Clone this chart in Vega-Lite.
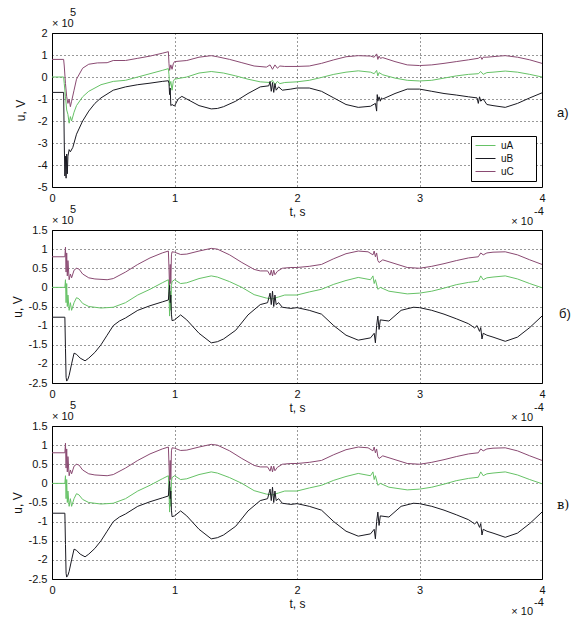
{
"$schema": "https://vega.github.io/schema/vega-lite/v6.json",
"background": "white",
"padding": {"left": 10, "top": 6, "right": 5, "bottom": 5},
"config": {
 "font": "Liberation Sans",
 "view": {"stroke": "#000", "strokeWidth": 1},
 "axis": {"labelFontSize": 11, "labelColor": "#111", "titleFontSize": 12, "titleFontWeight": "normal", "titleColor": "#111", "gridColor": "#000", "gridDash": [1, 3], "gridOpacity": 0.8, "ticks": false, "domain": false, "labelPadding": 5, "labelOverlap": false, "labelFlush": false, "tickCount": 20, "labelExpr": "datum.value + ''"},
 "text": {"font": "Liberation Sans", "fontSize": 11, "color": "#111"}
},
"datasets": {
"a": [
{"s":"uC","t":0,"u":0.8},{"s":"uC","t":0.095,"u":0.8},{"s":"uC","t":0.1,"u":0.5},{"s":"uC","t":0.11,"u":-0.3},{"s":"uC","t":0.12,"u":-0.9},{"s":"uC","t":0.13,"u":-1.2},{"s":"uC","t":0.14,"u":-1.0},{"s":"uC","t":0.15,"u":-1.35},{"s":"uC","t":0.16,"u":-1.1},{"s":"uC","t":0.18,"u":-0.6},{"s":"uC","t":0.2,"u":-0.1},{"s":"uC","t":0.25,"u":0.4},{"s":"uC","t":0.3,"u":0.58},{"s":"uC","t":0.37,"u":0.64},{"s":"uC","t":0.45,"u":0.65},{"s":"uC","t":0.5,"u":0.75},{"s":"uC","t":0.6,"u":0.75},{"s":"uC","t":0.7,"u":0.85},{"s":"uC","t":0.8,"u":0.95},{"s":"uC","t":0.9,"u":1.08},{"s":"uC","t":0.95,"u":1.15},{"s":"uC","t":0.955,"u":0.6},{"s":"uC","t":0.96,"u":0.3},{"s":"uC","t":0.97,"u":0.55},{"s":"uC","t":0.98,"u":0.35},{"s":"uC","t":0.99,"u":0.6},{"s":"uC","t":1.0,"u":0.7},{"s":"uC","t":1.1,"u":0.75},{"s":"uC","t":1.2,"u":0.9},{"s":"uC","t":1.3,"u":0.97},{"s":"uC","t":1.35,"u":0.92},{"s":"uC","t":1.45,"u":0.8},{"s":"uC","t":1.55,"u":0.65},{"s":"uC","t":1.65,"u":0.5},{"s":"uC","t":1.75,"u":0.45},{"s":"uC","t":1.78,"u":0.55},{"s":"uC","t":1.8,"u":0.35},{"s":"uC","t":1.82,"u":0.55},{"s":"uC","t":1.84,"u":0.4},{"s":"uC","t":1.86,"u":0.5},{"s":"uC","t":1.9,"u":0.48},{"s":"uC","t":2.0,"u":0.48},{"s":"uC","t":2.1,"u":0.5},{"s":"uC","t":2.2,"u":0.62},{"s":"uC","t":2.3,"u":0.78},{"s":"uC","t":2.4,"u":0.92},{"s":"uC","t":2.5,"u":0.97},{"s":"uC","t":2.6,"u":0.95},{"s":"uC","t":2.63,"u":0.9},{"s":"uC","t":2.65,"u":1.05},{"s":"uC","t":2.66,"u":0.8},{"s":"uC","t":2.67,"u":0.95},{"s":"uC","t":2.68,"u":0.85},{"s":"uC","t":2.7,"u":0.88},{"s":"uC","t":2.8,"u":0.7},{"s":"uC","t":2.9,"u":0.55},{"s":"uC","t":3.0,"u":0.52},{"s":"uC","t":3.1,"u":0.55},{"s":"uC","t":3.2,"u":0.62},{"s":"uC","t":3.3,"u":0.7},{"s":"uC","t":3.4,"u":0.78},{"s":"uC","t":3.48,"u":0.85},{"s":"uC","t":3.5,"u":0.92},{"s":"uC","t":3.51,"u":0.8},{"s":"uC","t":3.52,"u":0.9},{"s":"uC","t":3.55,"u":0.9},{"s":"uC","t":3.65,"u":0.95},{"s":"uC","t":3.7,"u":0.97},{"s":"uC","t":3.8,"u":0.9},{"s":"uC","t":3.9,"u":0.78},{"s":"uC","t":4.0,"u":0.62},
{"s":"uA","t":0,"u":0},{"s":"uA","t":0.095,"u":0},{"s":"uA","t":0.1,"u":-0.3},{"s":"uA","t":0.11,"u":-0.9},{"s":"uA","t":0.12,"u":-1.5},{"s":"uA","t":0.13,"u":-1.7},{"s":"uA","t":0.14,"u":-2.1},{"s":"uA","t":0.15,"u":-1.8},{"s":"uA","t":0.16,"u":-2.0},{"s":"uA","t":0.18,"u":-1.6},{"s":"uA","t":0.2,"u":-1.3},{"s":"uA","t":0.25,"u":-0.9},{"s":"uA","t":0.3,"u":-0.65},{"s":"uA","t":0.4,"u":-0.35},{"s":"uA","t":0.5,"u":-0.2},{"s":"uA","t":0.6,"u":-0.15},{"s":"uA","t":0.7,"u":0.0},{"s":"uA","t":0.8,"u":0.15},{"s":"uA","t":0.9,"u":0.3},{"s":"uA","t":0.95,"u":0.38},{"s":"uA","t":0.955,"u":0.1},{"s":"uA","t":0.96,"u":-0.4},{"s":"uA","t":0.97,"u":-0.2},{"s":"uA","t":0.98,"u":-0.6},{"s":"uA","t":0.99,"u":-0.2},{"s":"uA","t":1.0,"u":-0.1},{"s":"uA","t":1.1,"u":0.0},{"s":"uA","t":1.2,"u":0.18},{"s":"uA","t":1.3,"u":0.25},{"s":"uA","t":1.4,"u":0.18},{"s":"uA","t":1.5,"u":0.05},{"s":"uA","t":1.6,"u":-0.1},{"s":"uA","t":1.7,"u":-0.22},{"s":"uA","t":1.78,"u":-0.25},{"s":"uA","t":1.8,"u":-0.15},{"s":"uA","t":1.82,"u":-0.35},{"s":"uA","t":1.84,"u":-0.2},{"s":"uA","t":1.86,"u":-0.3},{"s":"uA","t":1.9,"u":-0.25},{"s":"uA","t":2.0,"u":-0.22},{"s":"uA","t":2.1,"u":-0.15},{"s":"uA","t":2.2,"u":-0.02},{"s":"uA","t":2.3,"u":0.12},{"s":"uA","t":2.4,"u":0.22},{"s":"uA","t":2.5,"u":0.28},{"s":"uA","t":2.6,"u":0.22},{"s":"uA","t":2.63,"u":0.15},{"s":"uA","t":2.65,"u":0.3},{"s":"uA","t":2.66,"u":0.05},{"s":"uA","t":2.67,"u":0.2},{"s":"uA","t":2.7,"u":0.1},{"s":"uA","t":2.8,"u":-0.05},{"s":"uA","t":2.9,"u":-0.15},{"s":"uA","t":3.0,"u":-0.18},{"s":"uA","t":3.1,"u":-0.15},{"s":"uA","t":3.2,"u":-0.05},{"s":"uA","t":3.3,"u":0.05},{"s":"uA","t":3.4,"u":0.12},{"s":"uA","t":3.48,"u":0.15},{"s":"uA","t":3.5,"u":0.25},{"s":"uA","t":3.52,"u":0.12},{"s":"uA","t":3.55,"u":0.2},{"s":"uA","t":3.6,"u":0.22},{"s":"uA","t":3.7,"u":0.27},{"s":"uA","t":3.8,"u":0.22},{"s":"uA","t":3.9,"u":0.12},{"s":"uA","t":4.0,"u":0.0},
{"s":"uB","t":0,"u":-0.7},{"s":"uB","t":0.095,"u":-0.7},{"s":"uB","t":0.1,"u":-3.0},{"s":"uB","t":0.105,"u":-4.5},{"s":"uB","t":0.11,"u":-3.6},{"s":"uB","t":0.115,"u":-4.6},{"s":"uB","t":0.12,"u":-3.5},{"s":"uB","t":0.125,"u":-4.4},{"s":"uB","t":0.13,"u":-3.6},{"s":"uB","t":0.14,"u":-3.3},{"s":"uB","t":0.15,"u":-3.4},{"s":"uB","t":0.17,"u":-3.2},{"s":"uB","t":0.2,"u":-2.6},{"s":"uB","t":0.25,"u":-2.0},{"s":"uB","t":0.3,"u":-1.55},{"s":"uB","t":0.35,"u":-1.2},{"s":"uB","t":0.4,"u":-0.95},{"s":"uB","t":0.5,"u":-0.6},{"s":"uB","t":0.6,"u":-0.45},{"s":"uB","t":0.7,"u":-0.35},{"s":"uB","t":0.8,"u":-0.28},{"s":"uB","t":0.9,"u":-0.2},{"s":"uB","t":0.95,"u":-0.17},{"s":"uB","t":0.955,"u":-0.3},{"s":"uB","t":0.96,"u":-0.8},{"s":"uB","t":0.965,"u":-0.5},{"s":"uB","t":0.97,"u":-1.3},{"s":"uB","t":0.98,"u":-1.25},{"s":"uB","t":1.0,"u":-1.32},{"s":"uB","t":1.03,"u":-1.0},{"s":"uB","t":1.06,"u":-0.88},{"s":"uB","t":1.1,"u":-1.0},{"s":"uB","t":1.2,"u":-1.3},{"s":"uB","t":1.3,"u":-1.45},{"s":"uB","t":1.35,"u":-1.43},{"s":"uB","t":1.4,"u":-1.35},{"s":"uB","t":1.5,"u":-1.1},{"s":"uB","t":1.6,"u":-0.75},{"s":"uB","t":1.7,"u":-0.45},{"s":"uB","t":1.77,"u":-0.4},{"s":"uB","t":1.78,"u":-0.2},{"s":"uB","t":1.79,"u":-0.65},{"s":"uB","t":1.8,"u":-0.25},{"s":"uB","t":1.81,"u":-0.7},{"s":"uB","t":1.82,"u":-0.3},{"s":"uB","t":1.83,"u":-0.6},{"s":"uB","t":1.85,"u":-0.45},{"s":"uB","t":1.88,"u":-0.6},{"s":"uB","t":1.95,"u":-0.55},{"s":"uB","t":2.0,"u":-0.5},{"s":"uB","t":2.1,"u":-0.5},{"s":"uB","t":2.2,"u":-0.65},{"s":"uB","t":2.3,"u":-0.95},{"s":"uB","t":2.4,"u":-1.25},{"s":"uB","t":2.5,"u":-1.38},{"s":"uB","t":2.6,"u":-1.33},{"s":"uB","t":2.64,"u":-1.2},{"s":"uB","t":2.65,"u":-1.55},{"s":"uB","t":2.655,"u":-0.8},{"s":"uB","t":2.66,"u":-1.1},{"s":"uB","t":2.67,"u":-0.9},{"s":"uB","t":2.68,"u":-1.1},{"s":"uB","t":2.69,"u":-0.95},{"s":"uB","t":2.7,"u":-1.0},{"s":"uB","t":2.8,"u":-0.75},{"s":"uB","t":2.9,"u":-0.55},{"s":"uB","t":3.0,"u":-0.55},{"s":"uB","t":3.1,"u":-0.65},{"s":"uB","t":3.2,"u":-0.75},{"s":"uB","t":3.3,"u":-0.82},{"s":"uB","t":3.4,"u":-0.9},{"s":"uB","t":3.47,"u":-0.95},{"s":"uB","t":3.48,"u":-1.2},{"s":"uB","t":3.49,"u":-0.9},{"s":"uB","t":3.5,"u":-1.1},{"s":"uB","t":3.52,"u":-1.0},{"s":"uB","t":3.55,"u":-1.25},{"s":"uB","t":3.6,"u":-1.3},{"s":"uB","t":3.7,"u":-1.38},{"s":"uB","t":3.8,"u":-1.2},{"s":"uB","t":3.9,"u":-0.95},{"s":"uB","t":4.0,"u":-0.72}
],
"b": [
{"s":"uC","t":0,"u":0.8},{"s":"uC","t":0.105,"u":0.8},{"s":"uC","t":0.11,"u":1.05},{"s":"uC","t":0.115,"u":0.4},{"s":"uC","t":0.12,"u":0.9},{"s":"uC","t":0.125,"u":0.3},{"s":"uC","t":0.13,"u":0.7},{"s":"uC","t":0.14,"u":0.2},{"s":"uC","t":0.15,"u":0.35},{"s":"uC","t":0.16,"u":0.25},{"s":"uC","t":0.18,"u":0.45},{"s":"uC","t":0.2,"u":0.5},{"s":"uC","t":0.22,"u":0.48},{"s":"uC","t":0.25,"u":0.35},{"s":"uC","t":0.3,"u":0.25},{"s":"uC","t":0.35,"u":0.22},{"s":"uC","t":0.45,"u":0.2},{"s":"uC","t":0.5,"u":0.23},{"s":"uC","t":0.6,"u":0.4},{"s":"uC","t":0.7,"u":0.6},{"s":"uC","t":0.8,"u":0.77},{"s":"uC","t":0.9,"u":0.9},{"s":"uC","t":0.95,"u":0.95},{"s":"uC","t":0.955,"u":0.5},{"s":"uC","t":0.96,"u":-0.05},{"s":"uC","t":0.965,"u":0.6},{"s":"uC","t":0.97,"u":0.1},{"s":"uC","t":0.975,"u":0.85},{"s":"uC","t":0.98,"u":0.93},{"s":"uC","t":1.0,"u":0.92},{"s":"uC","t":1.05,"u":0.86},{"s":"uC","t":1.1,"u":0.87},{"s":"uC","t":1.2,"u":0.95},{"s":"uC","t":1.3,"u":1.02},{"s":"uC","t":1.35,"u":1.0},{"s":"uC","t":1.45,"u":0.85},{"s":"uC","t":1.55,"u":0.65},{"s":"uC","t":1.65,"u":0.47},{"s":"uC","t":1.7,"u":0.43},{"s":"uC","t":1.76,"u":0.43},{"s":"uC","t":1.78,"u":0.32},{"s":"uC","t":1.79,"u":0.45},{"s":"uC","t":1.8,"u":0.3},{"s":"uC","t":1.81,"u":0.45},{"s":"uC","t":1.82,"u":0.33},{"s":"uC","t":1.84,"u":0.42},{"s":"uC","t":1.88,"u":0.5},{"s":"uC","t":1.95,"u":0.52},{"s":"uC","t":2.0,"u":0.52},{"s":"uC","t":2.1,"u":0.55},{"s":"uC","t":2.2,"u":0.6},{"s":"uC","t":2.3,"u":0.75},{"s":"uC","t":2.4,"u":0.88},{"s":"uC","t":2.5,"u":0.95},{"s":"uC","t":2.58,"u":0.93},{"s":"uC","t":2.62,"u":0.85},{"s":"uC","t":2.63,"u":0.95},{"s":"uC","t":2.64,"u":0.8},{"s":"uC","t":2.65,"u":0.9},{"s":"uC","t":2.66,"u":0.7},{"s":"uC","t":2.67,"u":0.65},{"s":"uC","t":2.7,"u":0.72},{"s":"uC","t":2.8,"u":0.62},{"s":"uC","t":2.9,"u":0.52},{"s":"uC","t":3.0,"u":0.5},{"s":"uC","t":3.1,"u":0.55},{"s":"uC","t":3.2,"u":0.62},{"s":"uC","t":3.3,"u":0.7},{"s":"uC","t":3.4,"u":0.77},{"s":"uC","t":3.48,"u":0.8},{"s":"uC","t":3.5,"u":0.9},{"s":"uC","t":3.52,"u":0.85},{"s":"uC","t":3.55,"u":0.9},{"s":"uC","t":3.6,"u":0.92},{"s":"uC","t":3.7,"u":0.93},{"s":"uC","t":3.8,"u":0.85},{"s":"uC","t":3.9,"u":0.72},{"s":"uC","t":4.0,"u":0.6},
{"s":"uA","t":0,"u":0},{"s":"uA","t":0.105,"u":0},{"s":"uA","t":0.11,"u":0.2},{"s":"uA","t":0.115,"u":-0.4},{"s":"uA","t":0.12,"u":0.1},{"s":"uA","t":0.125,"u":-0.5},{"s":"uA","t":0.13,"u":-0.2},{"s":"uA","t":0.14,"u":-0.6},{"s":"uA","t":0.15,"u":-0.4},{"s":"uA","t":0.16,"u":-0.6},{"s":"uA","t":0.18,"u":-0.4},{"s":"uA","t":0.2,"u":-0.27},{"s":"uA","t":0.22,"u":-0.3},{"s":"uA","t":0.25,"u":-0.42},{"s":"uA","t":0.3,"u":-0.5},{"s":"uA","t":0.4,"u":-0.54},{"s":"uA","t":0.5,"u":-0.52},{"s":"uA","t":0.6,"u":-0.4},{"s":"uA","t":0.7,"u":-0.2},{"s":"uA","t":0.8,"u":-0.05},{"s":"uA","t":0.9,"u":0.12},{"s":"uA","t":0.95,"u":0.2},{"s":"uA","t":0.955,"u":-0.2},{"s":"uA","t":0.96,"u":-0.75},{"s":"uA","t":0.965,"u":-0.1},{"s":"uA","t":0.97,"u":-0.6},{"s":"uA","t":0.975,"u":0.05},{"s":"uA","t":0.98,"u":0.15},{"s":"uA","t":1.0,"u":0.2},{"s":"uA","t":1.05,"u":0.1},{"s":"uA","t":1.1,"u":0.12},{"s":"uA","t":1.2,"u":0.23},{"s":"uA","t":1.3,"u":0.3},{"s":"uA","t":1.35,"u":0.27},{"s":"uA","t":1.45,"u":0.15},{"s":"uA","t":1.55,"u":0.0},{"s":"uA","t":1.65,"u":-0.19},{"s":"uA","t":1.75,"u":-0.28},{"s":"uA","t":1.8,"u":-0.3},{"s":"uA","t":1.85,"u":-0.25},{"s":"uA","t":1.9,"u":-0.2},{"s":"uA","t":2.0,"u":-0.2},{"s":"uA","t":2.1,"u":-0.12},{"s":"uA","t":2.2,"u":-0.05},{"s":"uA","t":2.3,"u":0.08},{"s":"uA","t":2.4,"u":0.18},{"s":"uA","t":2.5,"u":0.26},{"s":"uA","t":2.6,"u":0.2},{"s":"uA","t":2.62,"u":0.3},{"s":"uA","t":2.63,"u":0.1},{"s":"uA","t":2.64,"u":0.2},{"s":"uA","t":2.66,"u":-0.05},{"s":"uA","t":2.68,"u":0.0},{"s":"uA","t":2.75,"u":-0.1},{"s":"uA","t":2.9,"u":-0.17},{"s":"uA","t":3.0,"u":-0.15},{"s":"uA","t":3.1,"u":-0.1},{"s":"uA","t":3.2,"u":-0.02},{"s":"uA","t":3.3,"u":0.07},{"s":"uA","t":3.4,"u":0.13},{"s":"uA","t":3.48,"u":0.16},{"s":"uA","t":3.5,"u":0.3},{"s":"uA","t":3.52,"u":0.2},{"s":"uA","t":3.55,"u":0.25},{"s":"uA","t":3.6,"u":0.27},{"s":"uA","t":3.7,"u":0.3},{"s":"uA","t":3.8,"u":0.22},{"s":"uA","t":3.9,"u":0.1},{"s":"uA","t":4.0,"u":-0.01},
{"s":"uB","t":0,"u":-0.78},{"s":"uB","t":0.105,"u":-0.78},{"s":"uB","t":0.11,"u":-1.6},{"s":"uB","t":0.115,"u":-2.35},{"s":"uB","t":0.12,"u":-2.45},{"s":"uB","t":0.13,"u":-2.4},{"s":"uB","t":0.14,"u":-2.3},{"s":"uB","t":0.16,"u":-2.0},{"s":"uB","t":0.18,"u":-1.72},{"s":"uB","t":0.2,"u":-1.75},{"s":"uB","t":0.23,"u":-1.85},{"s":"uB","t":0.27,"u":-1.92},{"s":"uB","t":0.3,"u":-1.85},{"s":"uB","t":0.35,"u":-1.7},{"s":"uB","t":0.4,"u":-1.5},{"s":"uB","t":0.45,"u":-1.25},{"s":"uB","t":0.5,"u":-1.0},{"s":"uB","t":0.55,"u":-0.88},{"s":"uB","t":0.6,"u":-0.8},{"s":"uB","t":0.7,"u":-0.6},{"s":"uB","t":0.8,"u":-0.48},{"s":"uB","t":0.9,"u":-0.38},{"s":"uB","t":0.95,"u":-0.33},{"s":"uB","t":0.955,"u":-0.1},{"s":"uB","t":0.96,"u":0.05},{"s":"uB","t":0.965,"u":-0.4},{"s":"uB","t":0.97,"u":-0.2},{"s":"uB","t":0.975,"u":-0.7},{"s":"uB","t":0.98,"u":-0.87},{"s":"uB","t":1.0,"u":-0.85},{"s":"uB","t":1.05,"u":-0.72},{"s":"uB","t":1.1,"u":-0.85},{"s":"uB","t":1.2,"u":-1.2},{"s":"uB","t":1.3,"u":-1.45},{"s":"uB","t":1.35,"u":-1.42},{"s":"uB","t":1.4,"u":-1.35},{"s":"uB","t":1.5,"u":-1.12},{"s":"uB","t":1.6,"u":-0.72},{"s":"uB","t":1.7,"u":-0.45},{"s":"uB","t":1.76,"u":-0.4},{"s":"uB","t":1.78,"u":-0.15},{"s":"uB","t":1.79,"u":-0.45},{"s":"uB","t":1.8,"u":-0.1},{"s":"uB","t":1.81,"u":-0.5},{"s":"uB","t":1.82,"u":-0.2},{"s":"uB","t":1.83,"u":-0.45},{"s":"uB","t":1.85,"u":-0.4},{"s":"uB","t":1.88,"u":-0.52},{"s":"uB","t":1.95,"u":-0.55},{"s":"uB","t":2.0,"u":-0.53},{"s":"uB","t":2.1,"u":-0.6},{"s":"uB","t":2.2,"u":-0.7},{"s":"uB","t":2.3,"u":-1.0},{"s":"uB","t":2.4,"u":-1.25},{"s":"uB","t":2.5,"u":-1.38},{"s":"uB","t":2.6,"u":-1.32},{"s":"uB","t":2.63,"u":-1.2},{"s":"uB","t":2.64,"u":-1.45},{"s":"uB","t":2.65,"u":-1.0},{"s":"uB","t":2.66,"u":-0.75},{"s":"uB","t":2.67,"u":-1.1},{"s":"uB","t":2.68,"u":-0.85},{"s":"uB","t":2.75,"u":-0.88},{"s":"uB","t":2.85,"u":-0.6},{"s":"uB","t":2.95,"u":-0.52},{"s":"uB","t":3.0,"u":-0.53},{"s":"uB","t":3.1,"u":-0.6},{"s":"uB","t":3.2,"u":-0.7},{"s":"uB","t":3.3,"u":-0.82},{"s":"uB","t":3.4,"u":-0.95},{"s":"uB","t":3.45,"u":-1.06},{"s":"uB","t":3.47,"u":-1.0},{"s":"uB","t":3.49,"u":-1.15},{"s":"uB","t":3.5,"u":-1.05},{"s":"uB","t":3.51,"u":-1.35},{"s":"uB","t":3.52,"u":-1.2},{"s":"uB","t":3.55,"u":-1.25},{"s":"uB","t":3.6,"u":-1.3},{"s":"uB","t":3.7,"u":-1.41},{"s":"uB","t":3.8,"u":-1.3},{"s":"uB","t":3.9,"u":-1.05},{"s":"uB","t":4.0,"u":-0.75}
]
},
"bounds": "flush",
"spacing": 43,
"resolve": {"scale": {"color": "independent"}, "legend": {"color": "independent"}},
"vconcat": [
{
 "width": 490, "height": 154,
 "layer": [
  {"data": {"name": "a"}, "mark": {"type": "line", "strokeWidth": 1, "clip": true},
   "encoding": {
    "x": {"field": "t", "type": "quantitative", "scale": {"domain": [0, 4], "nice": false, "zero": false}, "axis": {"values": [0, 1, 2, 3, 4], "tickCount": 20, "title": "t, s", "titlePadding": 3, "labelOverlap": false}},
    "y": {"field": "u", "type": "quantitative", "scale": {"domain": [-5, 2], "nice": false, "zero": false}, "axis": {"values": [-5, -4, -3, -2, -1, 0, 1, 2], "tickCount": 20, "title": "u, V", "titlePadding": 10, "labelOverlap": false}},
    "color": {"field": "s", "type": "nominal", "scale": {"domain": ["uA", "uB", "uC"], "range": ["#66c266", "#1a1a22", "#8a4a72"]},
     "legend": {"title": "uAu", "titleOrient": "right", "titleColor": "#fff", "titleFontSize": 10, "titleFontWeight": "normal", "titlePadding": 0, "orient": "bottom-right", "offset": 6, "strokeColor": "#000", "fillColor": "#fff", "padding": 4, "labelFontSize": 10, "labelColor": "#111", "symbolType": "M-1,0H3", "symbolSize": 100, "symbolStrokeWidth": 1, "rowPadding": 2, "labelOffset": 15, "cornerRadius": 0}},
    "detail": {"field": "s"}
   }},
  {"data": {"values": [{}]}, "mark": {"type": "text", "align": "left", "baseline": "middle", "dy": -9},
   "encoding": {"x": {"datum": 0}, "y": {"datum": 2}, "text": {"value": "× 10"}}},
  {"data": {"values": [{}]}, "mark": {"type": "text", "align": "left", "baseline": "middle", "dx": 18, "dy": -20},
   "encoding": {"x": {"datum": 0}, "y": {"datum": 2}, "text": {"value": "5"}}},
  {"data": {"values": [{}]}, "mark": {"type": "text", "align": "right", "baseline": "middle", "dx": -9, "dy": 35},
   "encoding": {"x": {"datum": 4}, "y": {"datum": -5}, "text": {"value": "× 10"}}},
  {"data": {"values": [{}]}, "mark": {"type": "text", "align": "left", "baseline": "middle", "dx": -8, "dy": 25},
   "encoding": {"x": {"datum": 4}, "y": {"datum": -5}, "text": {"value": "-4"}}},
  {"data": {"values": [{}]}, "mark": {"type": "text", "align": "left", "baseline": "middle", "dx": 15, "fontSize": 13},
   "encoding": {"x": {"datum": 4}, "y": {"datum": -1.64}, "text": {"value": "а)"}}}
 ]
},
{
 "width": 490, "height": 153,
 "layer": [
  {"data": {"name": "b"}, "mark": {"type": "line", "strokeWidth": 1, "clip": true},
   "encoding": {
    "x": {"field": "t", "type": "quantitative", "scale": {"domain": [0, 4], "nice": false, "zero": false}, "axis": {"values": [0, 1, 2, 3, 4], "tickCount": 20, "title": "t, s", "titlePadding": 3, "labelOverlap": false}},
    "y": {"field": "u", "type": "quantitative", "scale": {"domain": [-2.5, 1.5], "nice": false, "zero": false}, "axis": {"values": [-2.5, -2, -1.5, -1, -0.5, 0, 0.5, 1, 1.5], "tickCount": 20, "title": "u, V", "titlePadding": 4, "labelOverlap": false}},
    "color": {"field": "s", "type": "nominal", "scale": {"domain": ["uA", "uB", "uC"], "range": ["#66c266", "#1a1a22", "#8a4a72"]}, "legend": null},
    "detail": {"field": "s"}
   }},
  {"data": {"values": [{}]}, "mark": {"type": "text", "align": "left", "baseline": "middle", "dy": -9},
   "encoding": {"x": {"datum": 0}, "y": {"datum": 1.5}, "text": {"value": "× 10"}}},
  {"data": {"values": [{}]}, "mark": {"type": "text", "align": "left", "baseline": "middle", "dx": 18, "dy": -20},
   "encoding": {"x": {"datum": 0}, "y": {"datum": 1.5}, "text": {"value": "5"}}},
  {"data": {"values": [{}]}, "mark": {"type": "text", "align": "right", "baseline": "middle", "dx": -9, "dy": 35},
   "encoding": {"x": {"datum": 4}, "y": {"datum": -2.5}, "text": {"value": "× 10"}}},
  {"data": {"values": [{}]}, "mark": {"type": "text", "align": "left", "baseline": "middle", "dx": -8, "dy": 25},
   "encoding": {"x": {"datum": 4}, "y": {"datum": -2.5}, "text": {"value": "-4"}}},
  {"data": {"values": [{}]}, "mark": {"type": "text", "align": "left", "baseline": "middle", "dx": 17, "fontSize": 13},
   "encoding": {"x": {"datum": 4}, "y": {"datum": -0.7}, "text": {"value": "б)"}}}
 ]
},
{
 "width": 490, "height": 153,
 "layer": [
  {"data": {"name": "b"}, "mark": {"type": "line", "strokeWidth": 1, "clip": true},
   "encoding": {
    "x": {"field": "t", "type": "quantitative", "scale": {"domain": [0, 4], "nice": false, "zero": false}, "axis": {"values": [0, 1, 2, 3, 4], "tickCount": 20, "title": "t, s", "titlePadding": 3, "labelOverlap": false}},
    "y": {"field": "u", "type": "quantitative", "scale": {"domain": [-2.5, 1.5], "nice": false, "zero": false}, "axis": {"values": [-2.5, -2, -1.5, -1, -0.5, 0, 0.5, 1, 1.5], "tickCount": 20, "title": "u, V", "titlePadding": 4, "labelOverlap": false}},
    "color": {"field": "s", "type": "nominal", "scale": {"domain": ["uA", "uB", "uC"], "range": ["#66c266", "#1a1a22", "#8a4a72"]}, "legend": null},
    "detail": {"field": "s"}
   }},
  {"data": {"values": [{}]}, "mark": {"type": "text", "align": "left", "baseline": "middle", "dy": -9},
   "encoding": {"x": {"datum": 0}, "y": {"datum": 1.5}, "text": {"value": "× 10"}}},
  {"data": {"values": [{}]}, "mark": {"type": "text", "align": "left", "baseline": "middle", "dx": 18, "dy": -20},
   "encoding": {"x": {"datum": 0}, "y": {"datum": 1.5}, "text": {"value": "5"}}},
  {"data": {"values": [{}]}, "mark": {"type": "text", "align": "right", "baseline": "middle", "dx": -9, "dy": 33},
   "encoding": {"x": {"datum": 4}, "y": {"datum": -2.5}, "text": {"value": "× 10"}}},
  {"data": {"values": [{}]}, "mark": {"type": "text", "align": "left", "baseline": "middle", "dx": -8, "dy": 24},
   "encoding": {"x": {"datum": 4}, "y": {"datum": -2.5}, "text": {"value": "-4"}}},
  {"data": {"values": [{}]}, "mark": {"type": "text", "align": "left", "baseline": "middle", "dx": 15, "fontSize": 13, "font": "DejaVu Serif"},
   "encoding": {"x": {"datum": 4}, "y": {"datum": -0.57}, "text": {"value": "в)"}}}
 ]
}
]
}
